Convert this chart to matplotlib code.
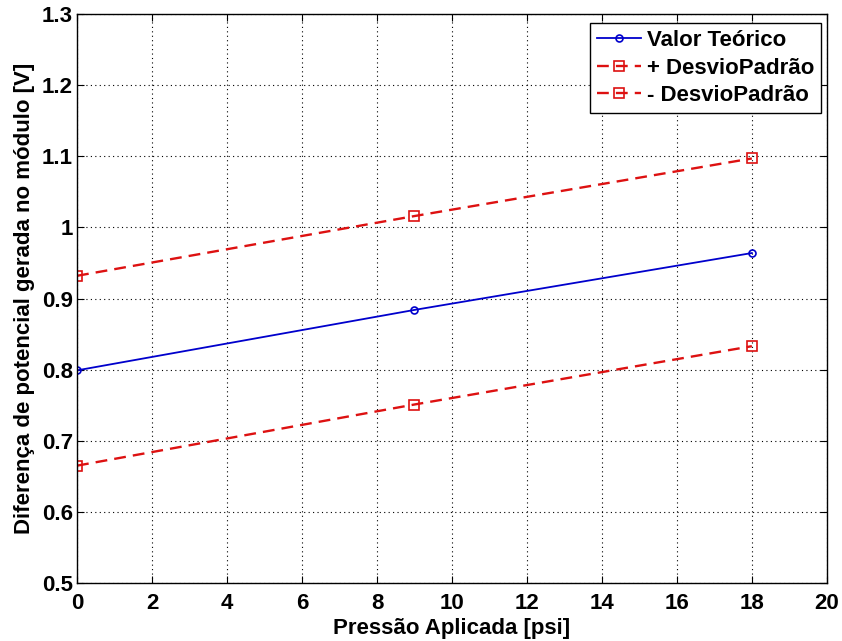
import matplotlib
matplotlib.use("Agg")
import matplotlib.pyplot as plt

# Pressure values and measured/theoretical voltages
pressao = [0, 9, 18]
valor_teorico = [0.799, 0.884, 0.964]
mais_desvio = [0.932, 1.016, 1.097]
menos_desvio = [0.665, 0.751, 0.833]

xticks = [0, 2, 4, 6, 8, 10, 12, 14, 16, 18, 20]
yticks = [0.5, 0.6, 0.7, 0.8, 0.9, 1.0, 1.1, 1.2, 1.3]
yticklabels = ["0.5", "0.6", "0.7", "0.8", "0.9", "1", "1.1", "1.2", "1.3"]

plt.rcParams["font.family"] = ["Liberation Sans", "DejaVu Sans"]
plt.rcParams["font.weight"] = "bold"

fig = plt.figure(figsize=(8.42, 6.41), dpi=100)
ax = fig.add_axes([0.0915, 0.0905, 0.8905, 0.8875])

ax.plot(pressao, valor_teorico, color="#0000cc", lw=1.3, marker="o", ms=5,
        mfc="none", mec="#0000cc", mew=1.2, label="Valor Teórico")
ax.plot(pressao, mais_desvio, color="#dd1111", lw=1.7, ls=(0, (5, 3)), marker="s",
        ms=7, mfc="none", mec="#dd1111", mew=1.2, label="+ DesvioPadrão")
ax.plot(pressao, menos_desvio, color="#dd1111", lw=1.7, ls=(0, (5, 3)), marker="s",
        ms=7, mfc="none", mec="#dd1111", mew=1.2, label="- DesvioPadrão")

ax.set_xlim(0, 20)
ax.set_ylim(0.5, 1.3)
ax.set_xticks(xticks)
ax.set_yticks(yticks)
ax.set_yticklabels(yticklabels)
ax.tick_params(direction="in", top=True, right=True, length=5, labelsize=16)
ax.tick_params(axis="x", pad=7)
ax.tick_params(axis="y", pad=3)
for lab in ax.get_xticklabels() + ax.get_yticklabels():
    lab.set_fontweight("bold")
ax.grid(True, color="black", ls=(0, (1, 3)), lw=0.8)
for s in ax.spines.values():
    s.set_linewidth(1.0)

ax.set_xlabel("Pressão Aplicada [psi]", fontsize=16, fontweight="bold", labelpad=3)
ax.set_ylabel("Diferença de potencial gerada no módulo [V]", fontsize=16,
              fontweight="bold", labelpad=5)

leg = ax.legend(loc="upper right", bbox_to_anchor=(0.992, 0.984), fontsize=16,
                frameon=True, fancybox=False, edgecolor="black", framealpha=1,
                borderpad=0.3, labelspacing=0.3, handlelength=2.0,
                handletextpad=0.25, borderaxespad=0.0)
leg.get_frame().set_linewidth(1.0)
for t in leg.get_texts():
    t.set_fontweight("bold")

fig.savefig("out.png", dpi=100)
